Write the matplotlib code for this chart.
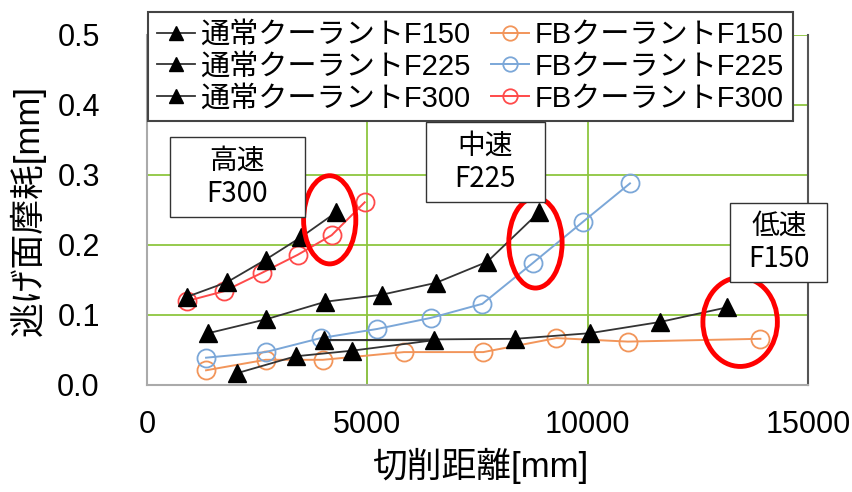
import matplotlib
matplotlib.use("Agg")
import matplotlib.pyplot as plt
from matplotlib.patches import Ellipse, Rectangle

plt.rcParams['font.family'] = ['Liberation Sans', 'Noto Sans CJK JP']

# 通常クーラント (black triangles)
std_f150_x = [2050, 3370, 4650, 6515, 4010, 8360, 10050, 11640, 13170]
std_f150_y = [0.017, 0.041, 0.049, 0.064, 0.064, 0.066, 0.074, 0.090, 0.111]
std_f225_x = [1390, 2710, 4050, 5330, 6560, 7720, 8900]
std_f225_y = [0.074, 0.094, 0.119, 0.129, 0.146, 0.176, 0.247]
std_f300_x = [910, 1820, 2690, 3490, 4300]
std_f300_y = [0.126, 0.147, 0.179, 0.211, 0.247]

# FBクーラント (hollow circles)
fb_f150_x = [1340, 2690, 3990, 5830, 7630, 9290, 10910, 13920]
fb_f150_y = [0.021, 0.036, 0.036, 0.047, 0.047, 0.067, 0.062, 0.066]
fb_f225_x = [1340, 2690, 3940, 5220, 6450, 7610, 8750, 9890, 10960]
fb_f225_y = [0.039, 0.047, 0.067, 0.080, 0.096, 0.116, 0.174, 0.233, 0.288]
fb_f300_x = [910, 1750, 2600, 3420, 4190, 4940]
fb_f300_y = [0.120, 0.134, 0.160, 0.186, 0.214, 0.261]

fig = plt.figure(figsize=(8.52, 4.92), dpi=100)
ax = fig.add_axes([147 / 852, 1 - 385 / 492, 661 / 852, 350 / 492])

ax.set_xlim(0, 15000)
ax.set_ylim(0, 0.5)
ax.set_xticks([0, 5000, 10000, 15000])
ax.set_yticks([0.0, 0.1, 0.2, 0.3, 0.4, 0.5])
ax.set_yticklabels(["0.0", "0.1", "0.2", "0.3", "0.4", "0.5"])
ax.tick_params(length=0, labelsize=22)
ax.tick_params(axis="y", pad=34)
ax.tick_params(axis="x", pad=18)

ax.grid(True, color="#8DC63F", linewidth=1.3)
ax.set_axisbelow(True)
for x in [5000, 10000]:
    ax.axvline(x, ymax=0.2, color="#999999", linewidth=1.3, zorder=0.5)
for side in ["left", "bottom"]:
    ax.spines[side].set_color("#AAAAAA")
    ax.spines[side].set_linewidth(1.5)
ax.spines["top"].set_visible(False)
ax.spines["right"].set_color("#555555")
ax.spines["right"].set_linewidth(1.5)

tri = dict(color="#333333", marker="^", markersize=13, markerfacecolor="black",
           markeredgecolor="black", linewidth=1.3, zorder=4)
ax.plot(std_f150_x, std_f150_y, label="通常クーラントF150", **tri)
ax.plot(std_f225_x, std_f225_y, label="通常クーラントF225", **tri)
ax.plot(std_f300_x, std_f300_y, label="通常クーラントF300", **tri)

circ = dict(marker="o", markersize=13, markerfacecolor="none",
            markeredgewidth=1.3, linewidth=1.4, zorder=3)
ax.plot(fb_f150_x, fb_f150_y, color="#F2955A", label="FBクーラントF150", **circ)
ax.plot(fb_f225_x, fb_f225_y, color="#7BA7D8", label="FBクーラントF225", **circ)
ax.plot(fb_f300_x, fb_f300_y, color="#FF4A4A", label="FBクーラントF300", **circ)

# red ellipses
for cx, cy, w, h in [(4146, 0.236, 1185, 0.126),
                     (8815, 0.203, 1210, 0.129),
                     (13460, 0.090, 1690, 0.127)]:
    ax.add_patch(Ellipse((cx, cy), w, h, fill=False, edgecolor="#FF0000",
                         linewidth=3.5, zorder=6, clip_on=False))

# text boxes
for (x0, x1, y0, y1), txt in [((524, 3576, 0.240, 0.354), "高速\nF300"),
                              ((6333, 9021, 0.261, 0.376), "中速\nF225"),
                              ((13235, 15440, 0.147, 0.260), "低速\nF150")]:
    ax.add_patch(Rectangle((x0, y0), x1 - x0, y1 - y0, facecolor="white",
                           edgecolor="#333333", linewidth=1.0, zorder=7, clip_on=False))
    ax.text((x0 + x1) / 2, (y0 + y1) / 2, txt, ha="center", va="center",
            fontsize=20, linespacing=1.15, zorder=8,
            family=["Noto Sans CJK JP", "Liberation Sans"])

leg = ax.legend(loc="upper left", bbox_to_anchor=(148 / 852, 1 - 12 / 492),
                bbox_transform=fig.transFigure, ncol=2, fontsize=21,
                frameon=True, fancybox=False, framealpha=1, edgecolor="#444444",
                handlelength=1.3, handletextpad=0.2, columnspacing=0.7,
                labelspacing=0.13, borderpad=0.3, borderaxespad=0, markerscale=0.8)
leg.get_frame().set_linewidth(1.5)
leg.set_zorder(10)

ax.set_xlabel("切削距離[mm]", fontsize=25)
ax.set_ylabel("逃げ面摩耗[mm]", fontsize=25)
ax.xaxis.label.set_va("center")
ax.yaxis.label.set_va("center")
ax.xaxis.set_label_coords((480 - 147) / 661, (385 - 466) / 350)
ax.yaxis.set_label_coords((28 - 147) / 661, (385 - 211) / 350)

plt.savefig("out.png", dpi=100)
plt.close()
